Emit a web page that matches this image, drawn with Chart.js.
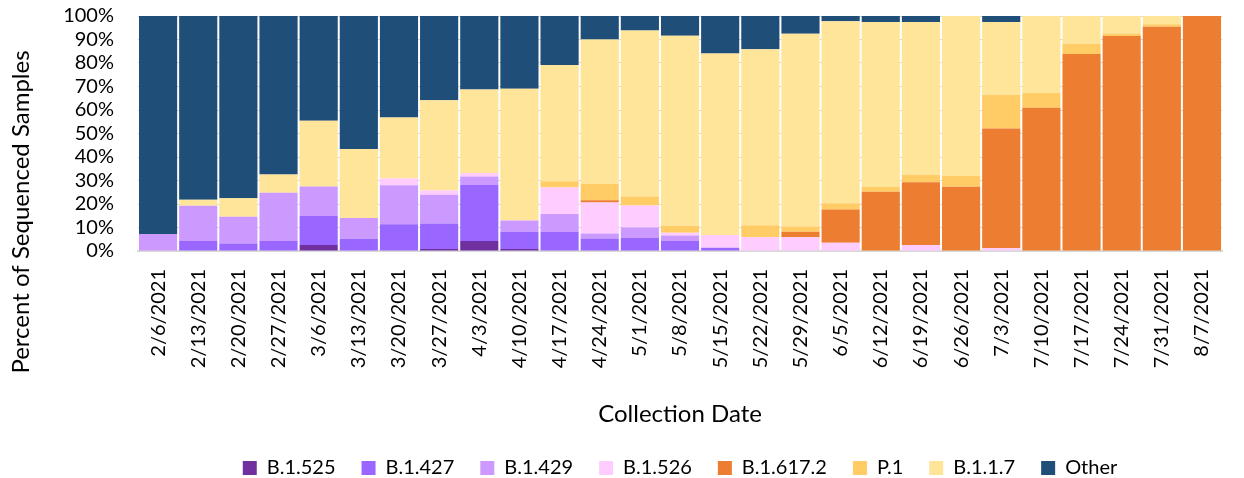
<!DOCTYPE html>
<html>
<head>
<meta charset="utf-8">
<script src="https://cdn.jsdelivr.net/npm/chart.js@4/dist/chart.umd.min.js"></script>
<style>
  body { margin: 0; background: #fff; }
  #wrap { width: 1244px; height: 478px; position: relative; }
</style>
</head>
<body>
<div id="wrap"><canvas id="stat1"></canvas></div>
<script>
const dates = ['2/6/2021','2/13/2021','2/20/2021','2/27/2021','3/6/2021','3/13/2021','3/20/2021','3/27/2021','4/3/2021','4/10/2021','4/17/2021','4/24/2021','5/1/2021','5/8/2021','5/15/2021','5/22/2021','5/29/2021','6/5/2021','6/12/2021','6/19/2021','6/26/2021','7/3/2021','7/10/2021','7/17/2021','7/24/2021','7/31/2021','8/7/2021'];
const b1525 = [0,0,0,0,2.6,0,0,0.9,4.3,0.9,0,0,0,0,0,0,0,0,0,0,0,0,0,0,0,0,0];
const b1427 = [0,4.3,3.2,4.3,12.3,5.2,11.4,10.8,23.8,7.3,8.1,5.3,5.5,4.3,1.4,0,0,0,0,0,0,0,0,0,0,0,0];
const b1429 = [7.2,15,11.4,20.5,12.5,8.8,16.6,12.2,3.6,4.8,7.6,2.1,4.5,2.3,0,0,0,0,0,0,0,0,0,0,0,0,0];
const b1526 = [0,0,0,0,0,0,2.9,1.8,1.5,0,11.3,13.2,9.4,1.2,5.4,5.9,5.9,3.5,0,2.6,0,1.2,0,0,0,0,0];
const b16172 = [0,0,0,0,0,0,0,0,0,0,0,1.0,0,0,0,0,2.3,14.2,25.2,26.7,27.3,50.9,61.0,83.8,91.5,95.4,100];
const p1 = [0,0,0,0,0,0,0,0,0,0,2.7,7.0,3.8,2.9,0,5.1,2.2,2.6,2.1,3.2,4.7,14.4,6.2,4.4,1.1,1.1,0];
const b117 = [0,2.5,7.8,7.8,28,29.4,25.9,38.5,35.5,56,49.4,61.4,70.6,80.9,77.2,74.8,82.1,77.5,70.1,65,68,30.9,32.8,11.8,7.4,3.5,0];
const other = [92.8,78.2,77.6,67.4,44.6,56.6,43.2,35.8,31.3,31,20.9,10,6.2,8.4,16,14.2,7.5,2.2,2.6,2.5,0,2.6,0,0,0,0,0];

const FONT = 'Lato, "Open Sans", sans-serif';

function ds(label, data, color) {
	return { label: label, data: data, backgroundColor: color, barPercentage: 0.95, categoryPercentage: 1.0 };
}

// y axis title sits lower than the plot centre in the original, draw it by hand
const yTitle = {
	id: 'yTitle',
	afterDraw(chart) {
		const ctx = chart.ctx;
		ctx.save();
		ctx.translate(21, 212);
		ctx.rotate(-Math.PI / 2);
		ctx.font = '24px ' + FONT;
		ctx.fillStyle = '#000';
		ctx.textAlign = 'center';
		ctx.textBaseline = 'middle';
		ctx.fillText('Percent of Sequenced Samples', 0, 0);
		ctx.restore();
	}
};

const stat1 = document.querySelector('#stat1');
let chart1 = new Chart(stat1, {
	type: 'bar',
	data: {
		labels: dates,
		datasets: [
			ds('B.1.525', b1525, '#7030A0'),
			ds('B.1.427', b1427, '#9966FF'),
			ds('B.1.429', b1429, '#CC99FF'),
			ds('B.1.526', b1526, '#FFCCFF'),
			ds('B.1.617.2', b16172, '#ED7D31'),
			ds('P.1', p1, '#FFCC66'),
			ds('B.1.1.7', b117, '#FFE599'),
			ds('Other', other, '#1F4E78')
		]
	},
	options: {
		responsive: true,
		maintainAspectRatio: false,
		animation: false,
		layout: { padding: { top: 16, right: 1, bottom: -10, left: 0 } },
		plugins: {
			tooltip: { enabled: false },
			legend: {
				position: 'bottom',
				fullSize: false,
				labels: {
					boxWidth: 14, boxHeight: 14, padding: 26,
					color: '#000',
					font: { family: FONT, size: 20 }
				}
			}
		},
		scales: {
			x: {
				stacked: true,
				afterFit: function(scale) { scale.height = 181; },
				grid: { display: false, drawTicks: false },
				border: { color: '#D9D9D9', width: 2 },
				ticks: {
					minRotation: 90, maxRotation: 90, padding: 18,
					autoSkip: false, color: '#000',
					font: { family: FONT, size: 20 }
				},
				title: {
					display: true, text: 'Collection Date', color: '#000',
					font: { family: FONT, size: 24 },
					padding: { top: 3, bottom: 3 }
				}
			},
			y: {
				stacked: true,
				min: 0, max: 100,
				afterFit: function(scale) { scale.width = 138; scale.paddingTop = 0; scale.paddingBottom = 0; },
				grid: { color: '#D9D9D9', drawTicks: false },
				border: { display: false },
				ticks: {
					stepSize: 10, autoSkip: false,
					padding: 24, color: '#000',
					font: { family: FONT, size: 20 },
					callback: v => v + '%'
				}
			}
		}
	},
	plugins: [yTitle]
});
</script>
</body>
</html>
